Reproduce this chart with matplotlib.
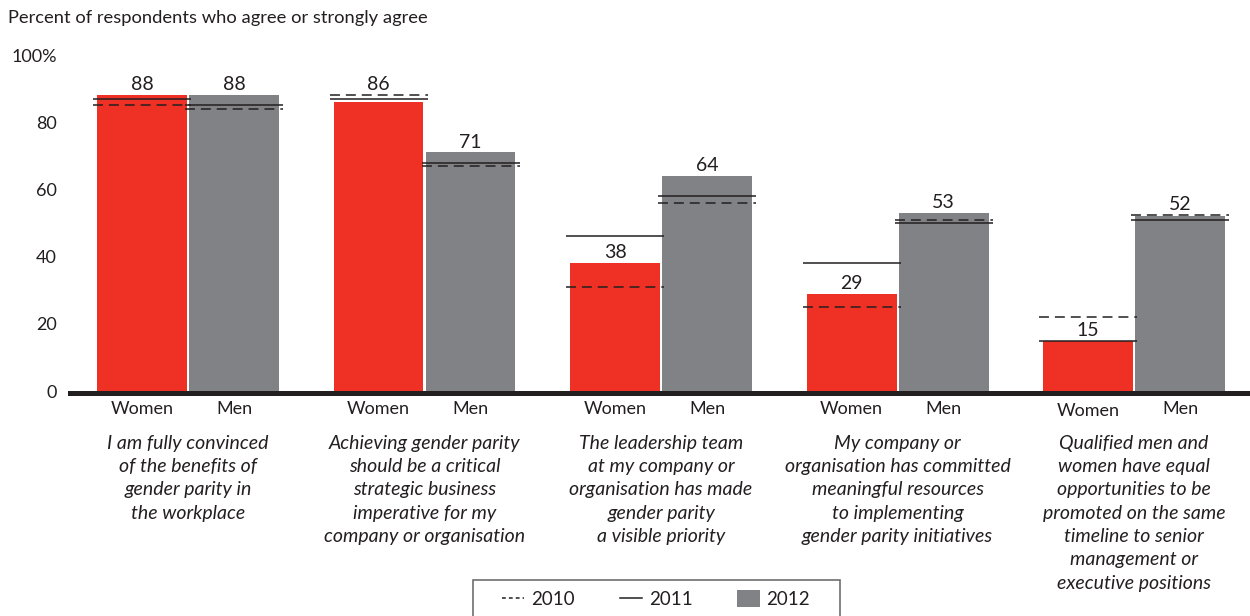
import matplotlib
matplotlib.use("Agg")
import matplotlib.pyplot as plt
import matplotlib.transforms as mtransforms
from matplotlib.lines import Line2D
from matplotlib.patches import Patch, Rectangle
import numpy as np

plt.rcParams['font.family'] = ['Lato', 'DejaVu Sans']

# ---- data ----
statements = [
    "I am fully convinced\nof the benefits of\ngender parity in\nthe workplace",
    "Achieving gender parity\nshould be a critical\nstrategic business\nimperative for my\ncompany or organisation",
    "The leadership team\nat my company or\norganisation has made\ngender parity\na visible priority",
    "My company or\norganisation has committed\nmeaningful resources\nto implementing\ngender parity initiatives",
    "Qualified men and\nwomen have equal\nopportunities to be\npromoted on the same\ntimeline to senior\nmanagement or\nexecutive positions",
]
groups = ["Women", "Men"]
women_2012 = [88, 86, 38, 29, 15]
men_2012 = [88, 71, 64, 53, 52]
women_2011 = [87, 87, 46, 38, 15]
men_2011 = [85, 68, 58, 50, 51]
women_2010 = [85, 88, 31, 25, 22]
men_2010 = [84, 67, 56, 51, 52.5]
yticks = [0, 20, 40, 60, 80, 100]
ytick_labels = ["0", "20", "40", "60", "80", "100%"]
legend_labels = ["2010", "2011", "2012"]
title = "Percent of respondents who agree or strongly agree"

RED = "#EE3124"
GRAY = "#818285"
DARK = "#231F20"

W, H = 1250, 616
fig = plt.figure(figsize=(W / 100, H / 100), dpi=100)
ax = fig.add_axes([70 / W, (H - 391) / H, 1180 / W, 336 / H])
ax.set_xlim(-0.499, 4.49)
ax.set_ylim(0, 100)

x = np.arange(len(statements))
off = 0.1945
bw = 0.38
lh = 0.207

ax.bar(x - off, women_2012, width=bw, color=RED, edgecolor="none", zorder=2)
ax.bar(x + off, men_2012, width=bw, color=GRAY, edgecolor="none", zorder=2)

for xs, v10, v11 in [(x - off, women_2010, women_2011), (x + off, men_2010, men_2011)]:
    ax.hlines(v11, xs - lh, xs + lh, colors=DARK, linewidth=1.1, zorder=3)
    ax.hlines(v10, xs - lh, xs + lh, colors=DARK, linewidth=1.1,
              linestyles=(0, (6.5, 3.9)), zorder=3)

# value labels
for xs, vals, v10, v11 in [(x - off, women_2012, women_2010, women_2011),
                           (x + off, men_2012, men_2010, men_2011)]:
    for xi, v, a, b in zip(xs, vals, v10, v11):
        top = v
        for l in (a, b):
            if v < l <= v + 3:
                top = max(top, l)
        ax.annotate(str(v), (xi, top), xytext=(0, 3.5), textcoords="offset points",
                    ha="center", va="baseline", fontsize=14, color=DARK, zorder=4)

# baseline
ax.axhline(-0.45, color=DARK, linewidth=3.6, clip_on=False, zorder=5)

for s in ax.spines.values():
    s.set_visible(False)
ax.set_yticks(yticks)
ax.set_yticklabels(ytick_labels)
ax.tick_params(axis="y", length=0, pad=9.5, labelsize=13, labelcolor=DARK)

xt = np.concatenate([x - off, x + off])
xl = [groups[0]] * len(x) + [groups[1]] * len(x)
ax.set_xticks(xt)
ax.set_xticklabels(xl)
ax.tick_params(axis="x", length=0, pad=7, labelsize=13, labelcolor=DARK)
lab = ax.get_xticklabels()[len(x) - 1]
lab.set_transform(lab.get_transform() +
                  mtransforms.ScaledTranslation(0, -2.5 / 100, fig.dpi_scale_trans))

trans = mtransforms.blended_transform_factory(ax.transData, fig.transFigure)
for xi, s in zip(x, statements):
    ax.text(xi, 1 - 434.5 / H, s, transform=trans, ha="center", va="top",
            fontsize=14, style="italic", color=DARK, linespacing=1.455)

fig.text(8 / W, 1 - 18 / H, title, ha="left", va="center", fontsize=13.2, color=DARK)

# legend
box = Rectangle((473 / W, -0.02), (840 - 473) / W, (616 - 580) / H + 0.02,
                transform=fig.transFigure, facecolor="white", edgecolor="#6D6E71",
                linewidth=1.2, zorder=1)
fig.patches.append(box)
handles = [Line2D([], [], color=DARK, lw=1.1, linestyle=(0, (2.5, 2.0))),
           Line2D([], [], color=DARK, lw=1.1),
           Patch(facecolor=GRAY, edgecolor="none")]
leg = fig.legend(handles, legend_labels, loc="center", bbox_to_anchor=(656 / W, 1 - 599 / H),
                 ncol=3, frameon=False, fontsize=13.5, handlelength=1.2, handleheight=1.05,
                 handletextpad=0.35, columnspacing=2.4, labelcolor=DARK)

fig.savefig("out.png", dpi=100)
